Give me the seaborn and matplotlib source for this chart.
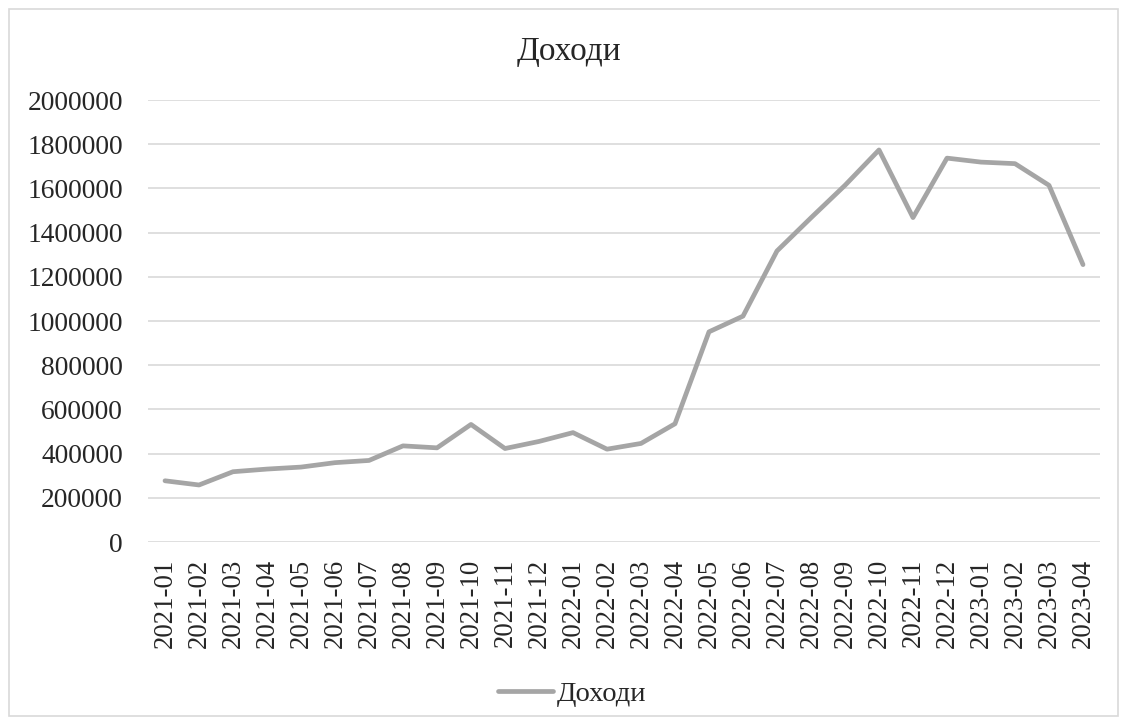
import numpy as np
import pandas as pd
import matplotlib
matplotlib.use("Agg")
import matplotlib.pyplot as plt
from matplotlib.patches import Rectangle
import seaborn as sns

months = [
    "2021-01", "2021-02", "2021-03", "2021-04", "2021-05", "2021-06", "2021-07",
    "2021-08", "2021-09", "2021-10", "2021-11", "2021-12", "2022-01", "2022-02",
    "2022-03", "2022-04", "2022-05", "2022-06", "2022-07", "2022-08", "2022-09",
    "2022-10", "2022-11", "2022-12", "2023-01", "2023-02", "2023-03", "2023-04",
]
income = [
    277000, 258000, 318000, 330000, 339000, 359000, 369000,
    435000, 426000, 532000, 423000, 455000, 495000, 420000,
    446000, 535000, 951000, 1022000, 1317000, 1467000, 1614000,
    1774000, 1468000, 1737000, 1719000, 1712000, 1614000, 1255000,
]
yticks = [0, 200000, 400000, 600000, 800000, 1000000, 1200000, 1400000,
          1600000, 1800000, 2000000]
series_name = "Доходи"
title = "Доходи"

sns.set_theme(style="white")
plt.rcParams["font.family"] = ["Liberation Serif", "DejaVu Serif"]

W, H = 1127, 724
fig = plt.figure(figsize=(W / 100, H / 100), dpi=100)
fig.patch.set_facecolor("white")

# outer chart frame
fig.add_artist(Rectangle((8.5 / W, 1 - 716 / H), (1118 - 8.5) / W, (716 - 8.5) / H,
                         transform=fig.transFigure, fill=False,
                         edgecolor="#D9D9D9", linewidth=1.2))

ax = fig.add_axes([148 / W, 1 - 542 / H, (1100 - 148) / W, (542 - 100) / H])

df = pd.DataFrame({"month": months, "value": income})
pos = np.arange(len(months))
df["pos"] = pos

for v in yticks:
    ax.axhline(v, color="#D9D9D9", linewidth=1.2, zorder=0)

sns.lineplot(data=df, x="pos", y="value", ax=ax, color="#A5A5A5",
             linewidth=3.4, sort=False, label=series_name,
             solid_joinstyle="round", solid_capstyle="round", legend=False)

ax.set_xlim(-0.5, len(months) - 0.5)
ax.set_ylim(0, 2000000)
ax.set_yticks(yticks)
ax.set_yticklabels([str(v) for v in yticks], fontsize=19.8)
ax.set_xticks(pos)
ax.set_xticklabels(months, rotation=90, fontsize=19.3)
ax.tick_params(axis="y", length=0, pad=18)
ax.tick_params(axis="x", length=0, pad=12)
ax.set_xlabel("")
ax.set_ylabel("")
for s in ax.spines.values():
    s.set_visible(False)
ax.grid(False)

fig.text(569 / W, 1 - 52 / H, title, ha="center", va="center", fontsize=24)

handles, labels = ax.get_legend_handles_labels()
fig.legend(handles, labels, loc="center", bbox_to_anchor=(572.5 / W, 1 - 694 / H),
           frameon=False, fontsize=20.5, handlelength=1.93, handletextpad=0.14)

fig.savefig("out.png", dpi=100, facecolor="white")
